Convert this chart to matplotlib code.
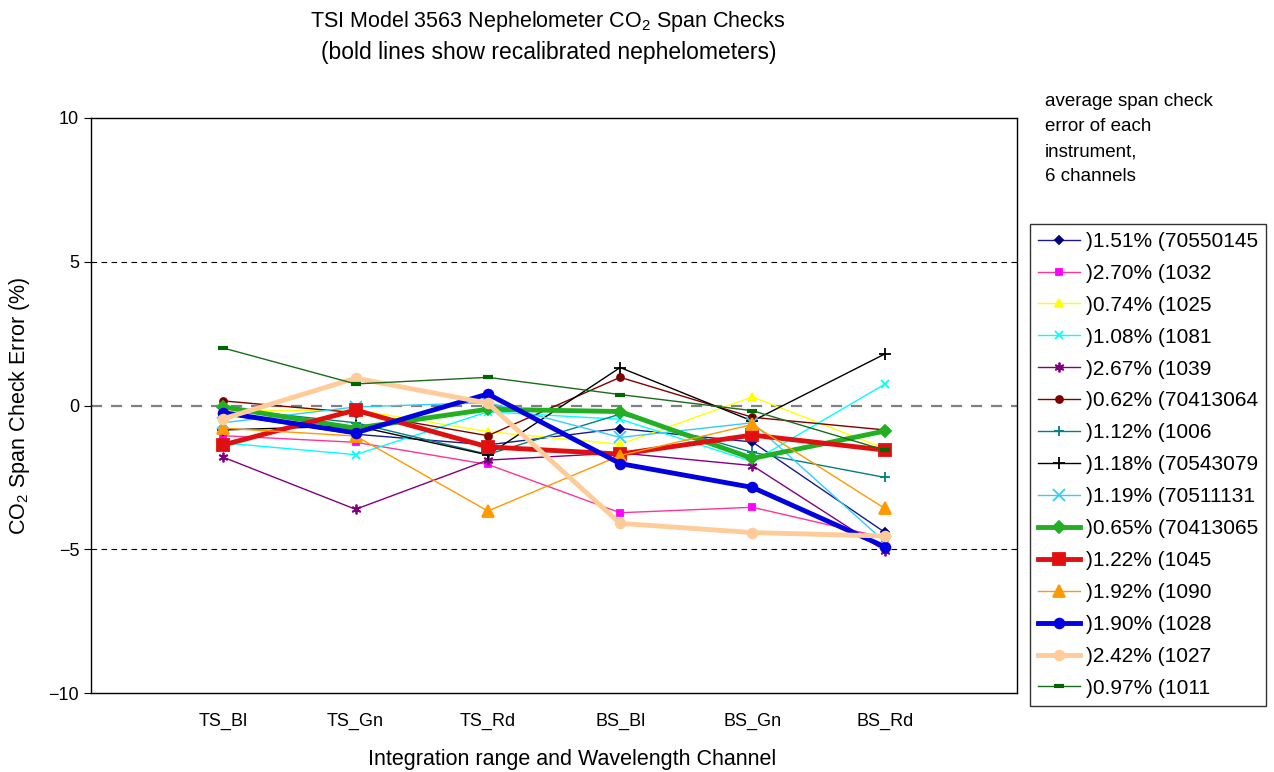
import numpy as np
import matplotlib
matplotlib.use('Agg')
import matplotlib.pyplot as plt

plt.rcParams['font.family'] = ['Liberation Sans', 'DejaVu Sans']
plt.rcParams['mathtext.fontset'] = 'custom'
plt.rcParams['mathtext.rm'] = 'Liberation Sans'
plt.rcParams['mathtext.it'] = 'Liberation Sans:italic'

channels = ['TS_Bl', 'TS_Gn', 'TS_Rd', 'BS_Bl', 'BS_Gn', 'BS_Rd']

s70550145 = [-0.30, -1.00, -1.37, -0.80, -1.27, -4.41]
s1032 = [-1.05, -1.28, -2.05, -3.73, -3.54, -4.60]
s1025 = [-0.20, -0.15, -0.91, -1.35, 0.30, -1.50]
s1081 = [-1.30, -1.71, -0.22, -0.48, -1.95, 0.74]
s1039 = [-1.80, -3.61, -1.90, -1.65, -2.09, -5.05]
s70413064 = [0.16, -0.25, -1.05, 0.98, -0.41, -0.85]
s1006 = [-0.10, -0.60, -1.70, -0.30, -1.63, -2.50]
s70543079 = [-0.85, -0.71, -1.72, 1.32, -0.54, 1.79]
s70511131 = [-0.60, -0.05, 0.10, -1.11, -0.60, -4.74]
s70413065 = [-0.05, -0.79, -0.13, -0.21, -1.84, -0.89]
s1045 = [-1.37, -0.16, -1.44, -1.69, -1.03, -1.55]
s1090 = [-0.79, -1.06, -3.67, -1.74, -0.66, -3.58]
s1028 = [-0.25, -0.95, 0.40, -2.02, -2.85, -4.91]
s1027 = [-0.46, 0.95, 0.08, -4.10, -4.42, -4.54]
s1011 = [2.00, 0.75, 0.98, 0.38, -0.18, -1.55]

labels = [')1.51% (70550145', ')2.70% (1032', ')0.74% (1025', ')1.08% (1081',
          ')2.67% (1039', ')0.62% (70413064', ')1.12% (1006', ')1.18% (70543079',
          ')1.19% (70511131', ')0.65% (70413065', ')1.22% (1045', ')1.92% (1090',
          ')1.90% (1028', ')2.42% (1027', ')0.97% (1011']
series = [s70550145, s1032, s1025, s1081, s1039, s70413064, s1006, s70543079,
          s70511131, s70413065, s1045, s1090, s1028, s1027, s1011]

# (line colour, marker colour, marker, marker size, line width)
styles = [
    ('#1a1a8c', '#000080', 'D', 4, 1.0),
    ('#ff3399', '#ff00ff', 's', 5, 1.0),
    ('#ffff00', '#ffff00', '^', 6, 1.0),
    ('#00ffff', '#00ffff', 'x', 6, 1.0),
    ('#800080', '#800080', (6, 2, 0), 7, 1.0),
    ('#800000', '#800000', 'o', 5, 1.0),
    ('#008080', '#008080', '+', 7, 1.0),
    ('#000000', '#000000', '+', 8, 1.0),
    ('#33ccff', '#33ccff', 'x', 8, 1.0),
    ('#22b022', '#22b022', 'D', 6, 3.5),
    ('#e01010', '#e01010', 's', 8, 3.5),
    ('#ff9900', '#ff9900', '^', 8, 1.0),
    ('#0000e0', '#0000e0', 'o', 7, 3.5),
    ('#ffcc99', '#ffcc99', 'o', 7, 3.5),
    ('#1a6b1a', '#006600', '_', 7, 1.0),
]

fig = plt.figure(figsize=(12.74, 7.72), dpi=100)
ax = fig.add_axes([91/1274, 79/772, 926/1274, 575/772])

x = np.arange(len(channels))
for vals, lab, (lc, mc, mk, ms, lw) in zip(series, labels, styles):
    mew = 3 if mk == '_' else 1.3
    ax.plot(x, vals, color=lc, lw=lw, marker=mk, ms=ms, mfc=mc, mec=mc,
            mew=mew, label=lab)

for yv in (5, -5):
    ax.axhline(yv, color='black', lw=0.8, ls=(0, (5, 4)), zorder=0)
ax.axhline(0, color='#808080', lw=1.6, ls=(0, (5, 4)), zorder=0)

ax.set_xlim(-1, 6)
ax.set_ylim(-10, 10)
ax.set_yticks([-10, -5, 0, 5, 10])
ax.set_xticks(x)
ax.set_xticklabels(channels)
ax.tick_params(axis='x', length=0, pad=14, labelsize=13)
ax.tick_params(axis='y', direction='out', length=5, labelsize=13)
for sp in ax.spines.values():
    sp.set_color('black')
    sp.set_linewidth(1.0)

ax.set_ylabel('CO$_2$ Span Check Error (%)', fontsize=15.5, labelpad=12)
ax.set_xlabel('Integration range and Wavelength Channel', fontsize=15.5)
ax.xaxis.set_label_coords((572 - 91) / 926, -0.098)

fig.text(548/1274, 1 - 22/772, 'TSI Model 3563 Nephelometer CO$_2$ Span Checks',
         ha='center', va='center', fontsize=15.5)
fig.text(549/1274, 1 - 53/772, '(bold lines show recalibrated nephelometers)',
         ha='center', va='center', fontsize=16.5)

fig.text(1045/1274, 1 - 93/772,
         'average span check\nerror of each\ninstrument,\n6 channels',
         ha='left', va='top', fontsize=13.5, linespacing=1.62)

leg = fig.legend(loc='upper left', bbox_to_anchor=(1030/1274, 1 - 224/772),
                 fontsize=15, frameon=True, fancybox=False, edgecolor='black',
                 handlelength=2.0, labelspacing=0.62, borderpad=0.38,
                 handletextpad=0.3, borderaxespad=0)
leg.get_frame().set_linewidth(1.0)

fig.savefig('out.png', dpi=100)
